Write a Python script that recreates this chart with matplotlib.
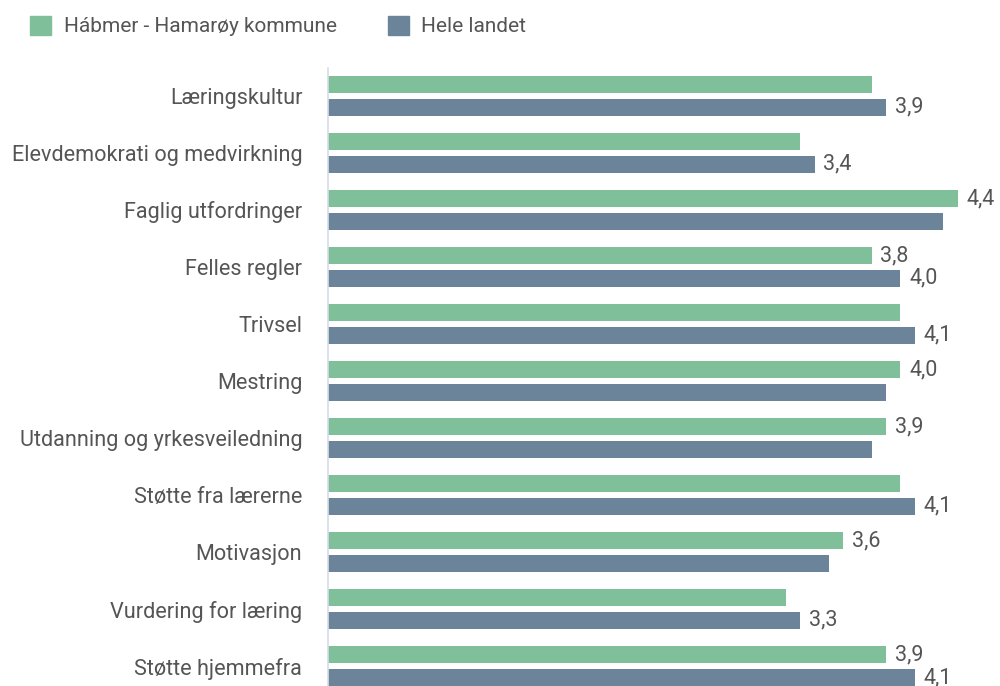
import matplotlib
matplotlib.use("Agg")
import matplotlib.pyplot as plt
from matplotlib.patches import Patch

categories = ["Læringskultur", "Elevdemokrati og medvirkning", "Faglig utfordringer",
              "Felles regler", "Trivsel", "Mestring", "Utdanning og yrkesveiledning",
              "Støtte fra lærerne", "Motivasjon", "Vurdering for læring", "Støtte hjemmefra"]
series_names = ["Hábmer - Hamarøy kommune", "Hele landet"]
kommune = [3.8, 3.3, 4.4, 3.8, 4.0, 4.0, 3.9, 4.0, 3.6, 3.2, 3.9]
landet = [3.9, 3.4, 4.3, 4.0, 4.1, 3.9, 3.8, 4.1, 3.5, 3.3, 4.1]

GREEN = "#7fbf9a"
BLUE = "#6b8499"
TEXT = "#555555"
FS = 15

plt.rcParams['font.family'] = ['Roboto', 'DejaVu Sans']

fig = plt.figure(figsize=(10, 6.86), dpi=100)
ax = fig.add_axes([0.328, 0.0, 0.644, 618 / 686])

bh = 0.31
off = 0.20
ys = list(range(len(categories)))
ax.barh([y - off for y in ys], kommune, height=bh, color=GREEN)
ax.barh([y + off for y in ys], landet, height=bh, color=BLUE)


def fmt(v):
    return f"{v:.1f}".replace(".", ",")


for y, a, b in zip(ys, kommune, landet):
    # the shorter bar's label is hidden when it would collide with the longer bar's label
    show_a = a >= b or (b - a) >= 0.15
    show_b = b > a or (a - b) >= 0.15
    if show_a:
        ax.text(a + 0.06, y - off, fmt(a), va="center", ha="left", fontsize=15.5, color=TEXT)
    if show_b:
        ax.text(b + 0.06, y + off, fmt(b), va="center", ha="left", fontsize=15.5, color=TEXT)

ax.set_xlim(0, 4.5)
ax.set_ylim(10.35, -0.49)
ax.set_yticks(ys)
ax.set_yticklabels(categories, fontsize=15.6, color=TEXT)
ax.tick_params(axis='y', length=0, pad=18.5)
ax.set_xticks([])
for s in ["top", "right", "bottom"]:
    ax.spines[s].set_visible(False)
ax.spines["left"].set_color("#d5dde8")
ax.spines["left"].set_linewidth(1.2)

handles = [Patch(color=GREEN), Patch(color=BLUE)]
fig.legend(handles, series_names, loc="upper left", bbox_to_anchor=(0.02, 0.992),
           ncol=2, frameon=False, fontsize=FS, labelcolor=TEXT, borderpad=0,
           handlelength=1.0, handleheight=1.0, handletextpad=0.6, columnspacing=2.45)

fig.savefig("out.png", dpi=100)
